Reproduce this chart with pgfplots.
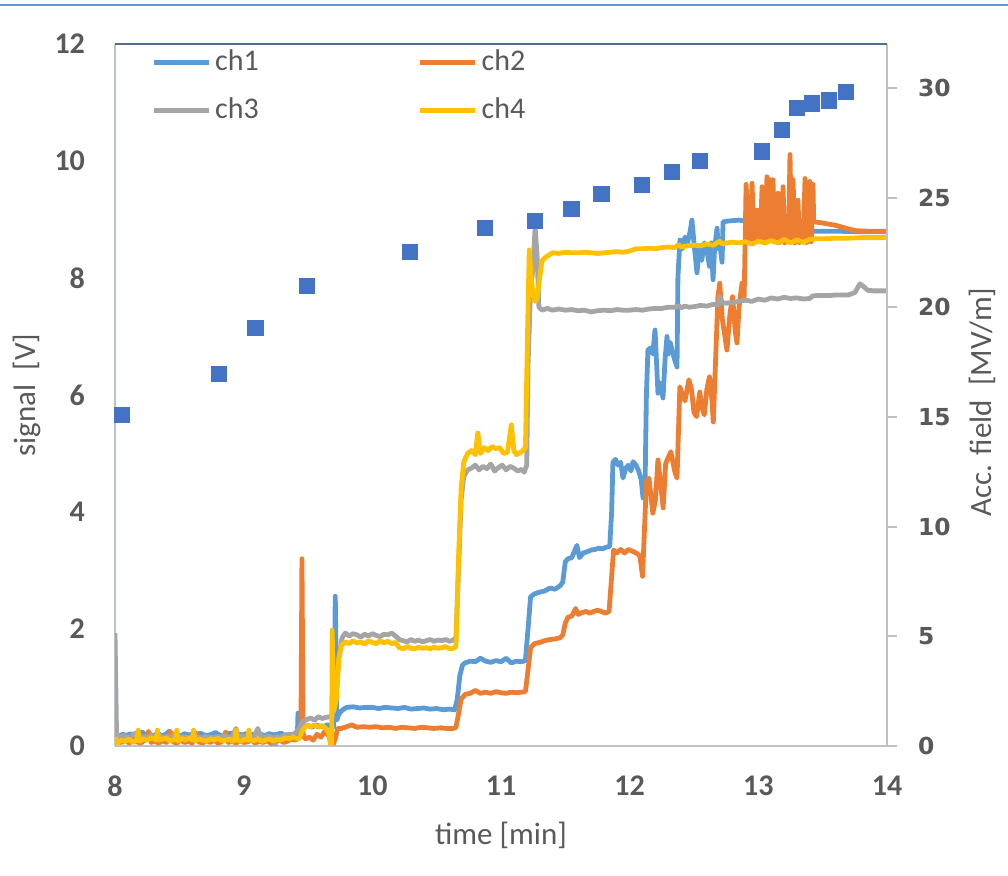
\documentclass[border=0pt]{standalone}
\usepackage{fontspec}
\setmainfont{Carlito}
\newfontfamily\dejavu{DejaVu Sans}
\usepackage{pgfplots}
\pgfplotsset{compat=1.18}

\definecolor{chA}{HTML}{5B9BD5}
\definecolor{chB}{HTML}{ED7D31}
\definecolor{chC}{HTML}{A5A5A5}
\definecolor{chD}{HTML}{FFC000}
\definecolor{field}{HTML}{4472C4}
\definecolor{textgray}{HTML}{595959}
\definecolor{axisgray}{HTML}{BCC2CA}
\definecolor{framegray}{HTML}{BFBFBF}
\definecolor{topline}{HTML}{5B9BD5}
\definecolor{topborder}{HTML}{4F6E96}

\begin{document}
\begin{tikzpicture}
\path[use as bounding box] (0,0) rectangle (504pt,438pt);
\draw[topline, line width=1.1pt] (0,435.5pt) -- (504pt,435.5pt);

% signal channels, left axis
\begin{axis}[
  at={(57.5pt,65pt)}, anchor=south west,
  scale only axis, width=386pt, height=351pt,
  xmin=8, xmax=14, ymin=0, ymax=12,
  xtick={8,...,14}, ytick={0,2,...,12},
  axis x line*=bottom, axis y line*=left,
  axis line style={draw=axisgray, line width=1pt, -},
  major tick length=0pt, tick style={draw=none},
  /pgf/number format/assume math mode=true,
  ticklabel style={font=\fontsize{15}{18}\selectfont\bfseries, text=textgray},
  xticklabel style={yshift=-11.5pt},
  yticklabel style={xshift=-11.5pt},
  xlabel={time [min]}, ylabel={signal\ \ [V]},
  label style={font=\fontsize{15.5}{18}\selectfont, text=textgray},
  xlabel style={at={(axis description cs:0.5,-0.127)}, anchor=center},
  ylabel style={at={(axis description cs:-0.114,0.5)}, anchor=center},
  legend columns=2,
  legend style={draw=none, fill=none, at={(axis description cs:0.0466,1)}, anchor=north west,
    font=\fontsize{15}{18}\selectfont, text=textgray, inner sep=0pt, row sep=6pt,
    nodes={inner sep=2pt, text height=11pt, text depth=3pt},
    /tikz/every even column/.append style={column sep=77.5pt}},
  legend image code/.code={\draw[#1] (0pt,0pt) -- (27.5pt,0pt);},
  every axis plot/.append style={line width=2.4pt, line join=round, no markers},
]
\addplot[chA] coordinates {
(8.00,0.18)(8.03,0.17)(8.06,0.2)(8.09,0.18)(8.12,0.21)(8.15,0.17)(8.18,0.19)(8.21,0.24)(8.24,0.18)(8.27,0.2)
(8.30,0.17)(8.33,0.22)(8.36,0.18)(8.39,0.19)(8.42,0.25)(8.45,0.18)(8.48,0.2)(8.51,0.17)(8.54,0.21)(8.57,0.19)
(8.60,0.2)(8.63,0.18)(8.66,0.22)(8.69,0.19)(8.72,0.18)(8.75,0.2)(8.78,0.23)(8.81,0.19)(8.84,0.17)(8.87,0.2)
(8.90,0.22)(8.93,0.18)(8.96,0.2)(8.99,0.19)(9.02,0.21)(9.05,0.18)(9.08,0.2)(9.11,0.24)(9.14,0.19)(9.17,0.18)
(9.20,0.21)(9.23,0.19)(9.26,0.2)(9.29,0.22)(9.32,0.18)(9.35,0.2)(9.38,0.19)(9.41,0.21)(9.418,0.2)(9.422,0.56)
(9.427,0.3)(9.47,0.33)(9.50,0.35)(9.53,0.32)(9.56,0.36)(9.59,0.34)(9.62,0.33)(9.65,0.36)(9.68,0.34)(9.70,0.33)
(9.712,2.56)(9.725,0.45)(9.74,0.55)(9.77,0.62)(9.80,0.66)(9.85,0.67)(9.90,0.65)(9.95,0.66)(10.0,0.66)(10.05,0.64)
(10.10,0.66)(10.15,0.65)(10.20,0.64)(10.25,0.66)(10.30,0.63)(10.35,0.64)(10.40,0.65)(10.45,0.63)(10.50,0.64)(10.55,0.62)
(10.60,0.63)(10.64,0.62)(10.66,0.8)(10.68,1.2)(10.70,1.38)(10.72,1.42)(10.76,1.45)(10.80,1.44)(10.84,1.5)(10.88,1.45)
(10.92,1.43)(10.96,1.46)(11.00,1.44)(11.04,1.5)(11.08,1.42)(11.12,1.45)(11.16,1.44)(11.19,1.46)(11.21,2.0)(11.23,2.55)
(11.26,2.6)(11.30,2.63)(11.34,2.65)(11.38,2.7)(11.42,2.68)(11.46,2.74)(11.48,2.8)(11.50,3.15)(11.52,3.2)(11.55,3.22)
(11.59,3.43)(11.61,3.22)(11.64,3.3)(11.67,3.32)(11.70,3.35)(11.73,3.36)(11.76,3.38)(11.79,3.37)(11.82,3.4)(11.845,3.41)
(11.86,4.0)(11.87,4.85)(11.89,4.9)(11.91,4.8)(11.93,4.85)(11.948,4.58)(11.97,4.75)(11.99,4.8)(12.01,4.7)(12.026,4.86)
(12.05,4.8)(12.07,4.7)(12.09,4.55)(12.104,4.24)(12.12,4.5)(12.13,6.0)(12.142,6.77)(12.16,6.8)(12.18,6.7)(12.197,7.11)
(12.21,6.5)(12.22,6.03)(12.24,6.2)(12.259,5.95)(12.275,6.6)(12.29,7.0)(12.30,6.7)(12.315,6.9)(12.329,6.77)(12.35,6.6)
(12.368,6.48)(12.375,8.02)(12.391,8.65)(12.41,8.5)(12.43,8.7)(12.45,8.6)(12.47,8.8)(12.484,8.99)(12.50,8.6)(12.523,8.09)
(12.54,8.5)(12.56,8.3)(12.58,8.6)(12.60,8.48)(12.62,8.2)(12.635,8.6)(12.648,7.97)(12.66,8.5)(12.679,8.85)(12.69,8.5)
(12.70,8.6)(12.718,8.27)(12.726,8.96)(12.75,8.97)(12.80,8.98)(12.85,8.99)(12.90,8.97)(12.95,8.96)(13.00,8.93)(13.05,8.9)
(13.10,8.88)(13.20,8.85)(13.30,8.82)(13.40,8.8)(13.50,8.8)(13.60,8.8)(13.80,8.79)(14.00,8.79)
};
\addlegendentry{ch1}
\addplot[chB] coordinates {
(8.00,0.2)(8.02,0.08)(8.05,0.06)(8.08,0.1)(8.11,0.05)(8.14,0.12)(8.17,0.07)(8.20,0.05)(8.23,0.1)(8.26,0.25)
(8.28,0.06)(8.31,0.08)(8.34,0.05)(8.37,0.09)(8.40,0.06)(8.43,0.25)(8.45,0.07)(8.48,0.05)(8.51,0.1)(8.54,0.06)
(8.57,0.08)(8.60,0.05)(8.63,0.22)(8.65,0.07)(8.68,0.05)(8.71,0.09)(8.74,0.06)(8.77,0.1)(8.80,0.05)(8.83,0.07)
(8.86,0.24)(8.88,0.06)(8.91,0.08)(8.94,0.05)(8.97,0.09)(9.00,0.06)(9.03,0.07)(9.06,0.1)(9.09,0.05)(9.12,0.08)
(9.15,0.06)(9.18,0.09)(9.21,0.05)(9.24,0.0)(9.25,0.07)(9.28,0.1)(9.31,0.06)(9.34,0.08)(9.37,0.12)(9.40,0.1)
(9.43,0.14)(9.445,0.15)(9.453,3.2)(9.462,0.2)(9.48,0.12)(9.51,0.15)(9.54,0.1)(9.57,0.2)(9.60,0.15)(9.63,0.25)
(9.66,0.18)(9.68,0.05)(9.69,0.0)(9.70,0.05)(9.715,0.15)(9.73,0.3)(9.76,0.3)(9.80,0.33)(9.84,0.36)(9.88,0.32)
(9.93,0.33)(9.98,0.32)(10.03,0.33)(10.08,0.31)(10.13,0.32)(10.18,0.3)(10.23,0.32)(10.28,0.31)(10.33,0.3)(10.38,0.32)
(10.43,0.31)(10.48,0.3)(10.53,0.31)(10.58,0.3)(10.63,0.3)(10.65,0.32)(10.67,0.55)(10.69,0.8)(10.72,0.88)(10.76,0.9)
(10.80,0.95)(10.84,0.9)(10.88,0.92)(10.92,0.9)(10.96,0.93)(11.00,0.91)(11.04,0.9)(11.08,0.92)(11.12,0.91)(11.16,0.92)
(11.19,0.93)(11.21,1.3)(11.23,1.68)(11.26,1.75)(11.30,1.77)(11.34,1.8)(11.38,1.82)(11.42,1.83)(11.46,1.85)(11.48,1.9)
(11.50,2.1)(11.52,2.2)(11.55,2.22)(11.58,2.35)(11.60,2.25)(11.63,2.28)(11.66,2.3)(11.69,2.27)(11.72,2.3)(11.75,2.32)
(11.78,2.3)(11.81,2.27)(11.84,2.3)(11.86,2.9)(11.875,3.35)(11.90,3.3)(11.93,3.36)(11.96,3.3)(11.99,3.36)(12.02,3.33)
(12.05,3.3)(12.08,3.25)(12.10,2.9)(12.13,4.5)(12.15,4.58)(12.18,3.98)(12.20,4.2)(12.22,4.89)(12.24,4.5)(12.26,4.07)
(12.28,4.83)(12.32,5.03)(12.35,4.7)(12.368,4.58)(12.39,6.14)(12.41,6.0)(12.43,5.9)(12.46,6.26)(12.48,6.1)(12.50,5.7)
(12.52,5.63)(12.545,6.05)(12.56,5.8)(12.58,5.66)(12.60,6.1)(12.62,6.31)(12.64,5.9)(12.65,5.54)(12.686,7.68)(12.70,7.91)
(12.72,7.3)(12.756,6.77)(12.78,7.4)(12.80,7.68)(12.82,7.1)(12.834,6.89)(12.85,7.5)(12.873,7.91)(12.89,7.68)(12.905,9.6)
(12.925,8.7)(12.94,8.6)(12.951,9.62)(12.965,8.75)(12.975,8.65)(12.99,9.16)(13.005,8.7)(13.015,8.62)(13.029,9.56)(13.045,8.7)
(13.055,8.6)(13.067,9.73)(13.078,8.65)(13.09,9.68)(13.10,8.7)(13.114,9.68)(13.125,8.62)(13.14,8.9)(13.153,9.45)(13.165,8.6)
(13.18,8.68)(13.192,9.56)(13.205,8.6)(13.22,8.75)(13.235,8.62)(13.246,10.11)(13.258,8.65)(13.27,9.68)(13.283,8.6)(13.295,8.7)
(13.308,9.33)(13.32,8.6)(13.335,8.65)(13.35,8.7)(13.363,9.7)(13.375,8.6)(13.388,8.65)(13.40,9.65)(13.412,8.62)(13.425,9.6)
(13.43,8.96)(13.50,8.94)(13.60,8.9)(13.70,8.84)(13.75,8.81)(13.85,8.8)(14.00,8.8)
};
\addlegendentry{ch2}
\addplot[chC] coordinates {
(8.00,1.93)(8.012,0.2)(8.04,0.15)(8.07,0.18)(8.10,0.14)(8.13,0.17)(8.16,0.22)(8.19,0.15)(8.22,0.16)(8.25,0.14)
(8.28,0.18)(8.31,0.15)(8.34,0.2)(8.37,0.14)(8.40,0.16)(8.43,0.15)(8.46,0.18)(8.49,0.14)(8.52,0.16)(8.55,0.15)
(8.58,0.14)(8.61,0.17)(8.64,0.15)(8.67,0.14)(8.70,0.16)(8.73,0.15)(8.76,0.14)(8.79,0.16)(8.82,0.15)(8.85,0.18)
(8.88,0.14)(8.91,0.15)(8.94,0.3)(8.96,0.15)(8.99,0.17)(9.02,0.15)(9.05,0.16)(9.08,0.14)(9.11,0.3)(9.13,0.16)
(9.16,0.15)(9.19,0.17)(9.22,0.15)(9.24,0.0)(9.25,0.16)(9.28,0.15)(9.31,0.17)(9.34,0.2)(9.37,0.18)(9.40,0.22)
(9.43,0.3)(9.46,0.42)(9.49,0.45)(9.52,0.48)(9.55,0.44)(9.58,0.5)(9.61,0.47)(9.64,0.49)(9.67,0.5)(9.69,0.52)
(9.72,0.9)(9.74,1.5)(9.765,1.85)(9.79,1.93)(9.82,1.88)(9.85,1.92)(9.88,1.9)(9.91,1.86)(9.94,1.91)(9.97,1.88)
(10.00,1.92)(10.03,1.89)(10.06,1.87)(10.09,1.91)(10.12,1.9)(10.15,1.93)(10.18,1.88)(10.21,1.82)(10.24,1.8)(10.27,1.78)
(10.30,1.82)(10.33,1.79)(10.36,1.81)(10.39,1.78)(10.42,1.8)(10.45,1.82)(10.48,1.79)(10.51,1.81)(10.54,1.8)(10.57,1.82)
(10.60,1.79)(10.63,1.81)(10.65,1.85)(10.67,3.0)(10.69,4.2)(10.71,4.6)(10.74,4.72)(10.77,4.75)(10.80,4.8)(10.83,4.72)
(10.86,4.78)(10.89,4.74)(10.92,4.82)(10.95,4.7)(10.98,4.76)(11.01,4.8)(11.04,4.72)(11.07,4.78)(11.10,4.75)(11.13,4.7)
(11.16,4.73)(11.18,4.68)(11.20,4.8)(11.21,6.5)(11.23,7.8)(11.25,8.2)(11.265,8.87)(11.28,8.4)(11.295,7.5)(11.32,7.45)
(11.36,7.48)(11.40,7.45)(11.45,7.47)(11.50,7.45)(11.55,7.46)(11.60,7.44)(11.65,7.45)(11.70,7.42)(11.75,7.44)(11.80,7.45)
(11.85,7.44)(11.90,7.46)(11.95,7.45)(12.00,7.45)(12.05,7.46)(12.10,7.45)(12.15,7.47)(12.20,7.48)(12.25,7.48)(12.30,7.5)
(12.35,7.5)(12.38,7.53)(12.40,7.49)(12.43,7.52)(12.46,7.5)(12.50,7.51)(12.55,7.53)(12.60,7.52)(12.65,7.55)(12.69,7.54)
(12.70,7.68)(12.72,7.58)(12.75,7.57)(12.80,7.58)(12.85,7.6)(12.90,7.62)(12.95,7.6)(13.00,7.64)(13.05,7.62)(13.10,7.66)
(13.15,7.64)(13.20,7.67)(13.25,7.65)(13.30,7.66)(13.35,7.64)(13.40,7.65)(13.42,7.69)(13.45,7.7)(13.50,7.7)(13.55,7.7)
(13.60,7.71)(13.65,7.71)(13.70,7.71)(13.75,7.75)(13.79,7.9)(13.82,7.85)(13.85,7.79)(13.90,7.78)(14.00,7.78)
};
\addlegendentry{ch3}
\addplot[chD] coordinates {
(8.00,0.15)(8.02,0.05)(8.05,0.1)(8.08,0.08)(8.11,0.12)(8.14,0.06)(8.17,0.1)(8.18,0.27)(8.19,0.08)(8.22,0.12)
(8.25,0.1)(8.28,0.14)(8.32,0.1)(8.33,0.27)(8.34,0.1)(8.37,0.12)(8.40,0.14)(8.42,0.09)(8.45,0.1)(8.47,0.12)
(8.48,0.27)(8.49,0.08)(8.52,0.13)(8.55,0.1)(8.58,0.14)(8.60,0.1)(8.61,0.27)(8.62,0.09)(8.65,0.12)(8.68,0.1)
(8.71,0.08)(8.74,0.12)(8.77,0.1)(8.80,0.13)(8.83,0.09)(8.86,0.1)(8.89,0.12)(8.91,0.08)(8.93,0.1)(8.94,0.27)
(8.95,0.1)(8.98,0.08)(9.01,0.12)(9.03,0.1)(9.04,0.27)(9.05,0.1)(9.08,0.09)(9.11,0.12)(9.14,0.08)(9.17,0.1)
(9.20,0.12)(9.23,0.09)(9.26,0.11)(9.29,0.1)(9.32,0.14)(9.35,0.12)(9.38,0.15)(9.41,0.13)(9.43,0.12)(9.46,0.28)
(9.49,0.35)(9.52,0.33)(9.55,0.36)(9.58,0.32)(9.61,0.35)(9.64,0.3)(9.665,0.2)(9.675,0.0)(9.684,0.0)(9.688,1.98)
(9.70,0.6)(9.72,0.8)(9.74,1.5)(9.76,1.72)(9.79,1.78)(9.82,1.75)(9.85,1.8)(9.88,1.76)(9.91,1.78)(9.94,1.74)
(9.97,1.8)(10.00,1.77)(10.03,1.75)(10.06,1.8)(10.09,1.76)(10.12,1.79)(10.15,1.75)(10.18,1.77)(10.21,1.68)(10.24,1.66)
(10.27,1.7)(10.30,1.67)(10.33,1.66)(10.36,1.69)(10.39,1.67)(10.42,1.68)(10.45,1.66)(10.48,1.69)(10.51,1.67)(10.54,1.68)
(10.57,1.7)(10.60,1.66)(10.63,1.67)(10.65,1.7)(10.67,3.2)(10.69,4.4)(10.71,4.85)(10.74,5.0)(10.77,5.05)(10.80,4.98)
(10.82,5.35)(10.84,5.0)(10.87,5.1)(10.90,5.05)(10.93,5.12)(10.96,5.08)(10.99,5.1)(11.02,5.0)(11.05,5.02)(11.08,5.49)
(11.10,5.05)(11.12,4.98)(11.14,5.0)(11.17,5.05)(11.19,5.1)(11.21,7.5)(11.22,8.48)(11.235,8.0)(11.25,7.7)(11.265,7.6)
(11.28,7.65)(11.30,8.0)(11.32,8.3)(11.35,8.36)(11.40,8.43)(11.45,8.42)(11.50,8.44)(11.55,8.43)(11.60,8.43)(11.65,8.44)
(11.70,8.43)(11.75,8.42)(11.80,8.43)(11.85,8.44)(11.90,8.45)(11.95,8.44)(12.00,8.46)(12.05,8.5)(12.10,8.5)(12.15,8.51)
(12.20,8.5)(12.25,8.52)(12.30,8.53)(12.35,8.52)(12.38,8.57)(12.40,8.53)(12.45,8.55)(12.50,8.56)(12.55,8.55)(12.60,8.58)
(12.65,8.56)(12.70,8.63)(12.72,8.58)(12.75,8.6)(12.80,8.61)(12.85,8.6)(12.90,8.62)(12.95,8.58)(13.00,8.63)(13.05,8.6)
(13.10,8.64)(13.15,8.6)(13.20,8.66)(13.25,8.6)(13.30,8.65)(13.35,8.61)(13.40,8.66)(13.45,8.67)(13.50,8.67)(13.60,8.68)
(13.70,8.68)(13.80,8.69)(13.90,8.69)(14.00,8.69)
};
\addlegendentry{ch4}
\end{axis}

% accelerating field, right axis
\begin{axis}[
  at={(57.5pt,65pt)}, anchor=south west,
  scale only axis, width=386pt, height=351pt,
  xmin=8, xmax=14, ymin=0, ymax=32,
  ytick={0,5,...,30},
  axis x line=none, axis y line*=right,
  axis line style={draw=framegray, line width=1pt, -},
  tick align=outside, major tick length=5pt,
  tick style={draw=framegray, line width=1pt},
  /pgf/number format/assume math mode=true,
  yticklabel style={font=\dejavu\bfseries\fontsize{11.7}{14}\selectfont, text=textgray, xshift=7pt},
  ylabel={Acc. field\ \ [MV/m]},
  ylabel style={font=\fontsize{15.5}{18}\selectfont, text=textgray, at={(axis description cs:1.124,0.49)}, anchor=center},
  clip=false,
]
\addplot[only marks, mark=square*, mark size=3.8pt, color=field, mark options={line width=0.3pt}] coordinates {
(8.054,15.11)(8.808,16.95)(9.09,19.06)(9.492,20.98)(10.293,22.53)(10.876,23.62)(11.262,23.94)(11.547,24.49)(11.78,25.17)
(12.096,25.58)(12.329,26.17)(12.547,26.67)(13.028,27.11)(13.184,28.08)(13.298,29.09)(13.417,29.3)(13.547,29.43)(13.681,29.83)
};
\draw[topborder, line width=1pt] (rel axis cs:0,1) -- (rel axis cs:1,1);
\end{axis}
\end{tikzpicture}
\end{document}
